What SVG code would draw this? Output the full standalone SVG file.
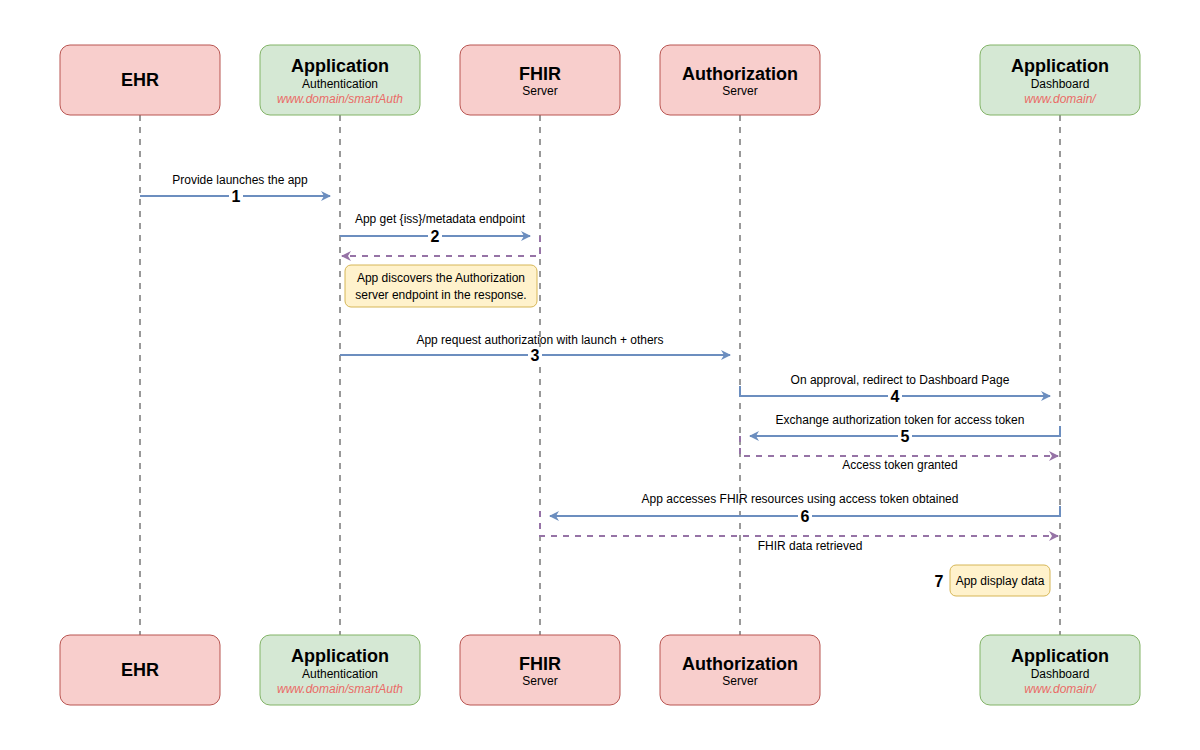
<svg xmlns="http://www.w3.org/2000/svg" width="1200" height="750" viewBox="0 0 1200 750">
<defs>
<style>
text{font-family:"Liberation Sans",Arial,sans-serif;fill:#000}
.red{fill:#f8cecc;stroke:#b85450;stroke-width:1}
.green{fill:#d5e8d4;stroke:#82b366;stroke-width:1}
.note{fill:#fff2cc;stroke:#d6b656;stroke-width:1}
.t{font-size:18px;font-weight:bold;text-anchor:middle}
.s{font-size:12px;text-anchor:middle}
.u{font-size:12px;text-anchor:middle;font-style:italic;fill:#ea6b66}
.l{font-size:12px;text-anchor:middle}
.n{font-size:16px;font-weight:bold;text-anchor:middle}
.life{stroke:#999;stroke-width:2;stroke-dasharray:6 6;fill:none}
.msg{stroke:#6c8ebf;stroke-width:2;fill:none;marker-end:url(#ab)}
.ret{stroke:#9673a6;stroke-width:2;stroke-dasharray:6 6;fill:none;marker-end:url(#ap)}
.nb{fill:#fff}
</style>
<marker id="ab" viewBox="0 0 10 10" refX="9" refY="5" markerWidth="10" markerHeight="10" markerUnits="userSpaceOnUse" orient="auto"><path d="M0,0 L10,5 L0,10 L3,5 z" fill="#6c8ebf"/></marker>
<marker id="ap" viewBox="0 0 10 10" refX="9" refY="5" markerWidth="10" markerHeight="10" markerUnits="userSpaceOnUse" orient="auto"><path d="M0,0 L10,5 L0,10 L3,5 z" fill="#9673a6"/></marker>
</defs>
<rect width="1200" height="750" fill="#fff"/>
<g id="lifelines">
<line class="life" x1="140" y1="115" x2="140" y2="635"/>
<line class="life" x1="340" y1="115" x2="340" y2="635"/>
<line class="life" x1="540" y1="115" x2="540" y2="635"/>
<line class="life" x1="740" y1="115" x2="740" y2="635"/>
<line class="life" x1="1060" y1="115" x2="1060" y2="635"/>
</g>
<g id="ehr-top"><rect class="red" x="60" y="45" width="160" height="70" rx="10"/><text class="t" x="140" y="86">EHR</text></g>
<g id="app-auth-top"><rect class="green" x="260" y="45" width="160" height="70" rx="10"/><text class="t" x="340" y="72">Application</text><text class="s" x="340" y="88">Authentication</text><text class="u" x="340" y="103">www.domain/smartAuth</text></g>
<g id="fhir-top"><rect class="red" x="460" y="45" width="160" height="70" rx="10"/><text class="t" x="540" y="80">FHIR</text><text class="s" x="540" y="95">Server</text></g>
<g id="authz-top"><rect class="red" x="660" y="45" width="160" height="70" rx="10"/><text class="t" x="740" y="80">Authorization</text><text class="s" x="740" y="95">Server</text></g>
<g id="app-dash-top"><rect class="green" x="980" y="45" width="160" height="70" rx="10"/><text class="t" x="1060" y="72">Application</text><text class="s" x="1060" y="88">Dashboard</text><text class="u" x="1060" y="103">www.domain/</text></g>
<g id="ehr-bottom"><rect class="red" x="60" y="635" width="160" height="70" rx="10"/><text class="t" x="140" y="676">EHR</text></g>
<g id="app-auth-bottom"><rect class="green" x="260" y="635" width="160" height="70" rx="10"/><text class="t" x="340" y="662">Application</text><text class="s" x="340" y="678">Authentication</text><text class="u" x="340" y="693">www.domain/smartAuth</text></g>
<g id="fhir-bottom"><rect class="red" x="460" y="635" width="160" height="70" rx="10"/><text class="t" x="540" y="670">FHIR</text><text class="s" x="540" y="685">Server</text></g>
<g id="authz-bottom"><rect class="red" x="660" y="635" width="160" height="70" rx="10"/><text class="t" x="740" y="670">Authorization</text><text class="s" x="740" y="685">Server</text></g>
<g id="app-dash-bottom"><rect class="green" x="980" y="635" width="160" height="70" rx="10"/><text class="t" x="1060" y="662">Application</text><text class="s" x="1060" y="678">Dashboard</text><text class="u" x="1060" y="693">www.domain/</text></g>
<g id="connectors">
<path class="msg" d="M140,196 H330"/>
<path class="msg" d="M340,236 H530"/>
<path class="ret" d="M540,236 V256 H342"/>
<path class="msg" d="M340,355 H730"/>
<path class="msg" d="M740,386 V396 H1050"/>
<path class="msg" d="M1060,426 V436 H750"/>
<path class="ret" d="M740,436 V456 H1058"/>
<path class="msg" d="M1060,506 V516 H550"/>
<path class="ret" d="M540,511 V536 H1058"/>
</g>
<g id="labels">
<text class="l" x="240" y="184">Provide launches the app</text>
<rect class="nb" x="229" y="188" width="14" height="16"/><text class="n" x="236" y="202">1</text>
<text class="l" x="440" y="223">App get {iss}/metadata endpoint</text>
<rect class="nb" x="428" y="228" width="14" height="16"/><text class="n" x="435" y="242">2</text>
<text class="l" x="540" y="344">App request authorization with launch + others</text>
<rect class="nb" x="528" y="347" width="14" height="16"/><text class="n" x="535" y="361">3</text>
<text class="l" x="900" y="384">On approval, redirect to Dashboard Page</text>
<rect class="nb" x="888" y="388" width="14" height="16"/><text class="n" x="895" y="402">4</text>
<text class="l" x="900" y="424">Exchange authorization token for access token</text>
<rect class="nb" x="898" y="428" width="14" height="16"/><text class="n" x="905" y="442">5</text>
<text class="l" x="900" y="469">Access token granted</text>
<text class="l" x="800" y="503">App accesses FHIR resources using access token obtained</text>
<rect class="nb" x="798" y="508" width="14" height="16"/><text class="n" x="805" y="522">6</text>
<text class="l" x="810" y="550">FHIR data retrieved</text>
<text class="n" x="939" y="587">7</text>
</g>
<g id="note-discovery"><rect class="note" x="345" y="265" width="192" height="42" rx="6"/><text class="l" x="441" y="282">App discovers the Authorization</text><text class="l" x="441" y="299">server endpoint in the response.</text></g>
<g id="note-display"><rect class="note" x="950" y="565" width="100" height="31" rx="6"/><text class="l" x="1000" y="585">App display data</text></g>
</svg>
